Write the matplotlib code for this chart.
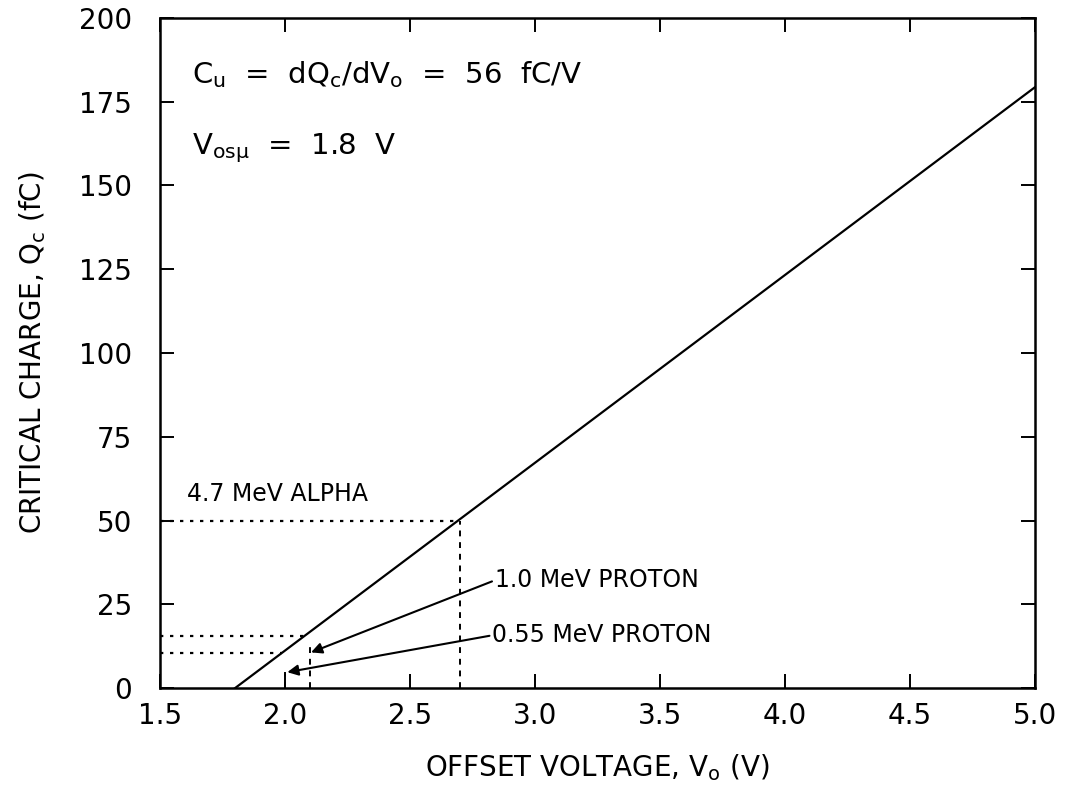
import matplotlib.pyplot as plt

# critical charge line: Q = 56 fC/V * (V - 1.8)
offset_v = [1.8, 5.0]
crit_q = [0.0, 179.2]

# particle reference levels (voltage, charge)
alpha_v, alpha_q = 2.7, 50
p10_v, p10_q = 2.1, 15.5
p055_v, p055_q = 2.0, 10.5

xticks = [1.5, 2.0, 2.5, 3.0, 3.5, 4.0, 4.5, 5.0]
yticks = [0, 25, 50, 75, 100, 125, 150, 175, 200]

plt.rcParams['font.family'] = ['DejaVu Sans']
plt.rcParams['mathtext.fontset'] = 'dejavusans'

fig = plt.figure(figsize=(10.8, 8.05), dpi=100)
ax = fig.add_axes([0.148, 0.145, 0.810, 0.833])

ax.plot(offset_v, crit_q, color='black', lw=1.6)

dot = dict(color='black', lw=1.6, ls=(0, (1.5, 3)))
dash = dict(color='black', lw=1.4, ls=(0, (3, 3)))
ax.plot([1.5, alpha_v], [alpha_q, alpha_q], **dot)
ax.plot([alpha_v, alpha_v], [0, alpha_q], **dash)
ax.plot([1.5, p10_v - 0.02], [p10_q, p10_q], **dot)
ax.plot([p10_v, p10_v], [0, 13], **dash)
ax.plot([1.5, p055_v - 0.01], [p055_q, p055_q], **dot)
ax.plot([p055_v, p055_v], [0, 5], **dash)

fs = 20
afs = 17
arrow = dict(arrowstyle='-|>', color='black', lw=1.5, shrinkA=0, shrinkB=0,
             mutation_scale=16, relpos=(0, 0.5))
ax.text(1.61, 54.5, '4.7 MeV ALPHA', fontsize=afs, va='bottom')
ax.annotate('1.0 MeV PROTON', xy=(2.105, 10.7), xytext=(2.84, 32.2),
            fontsize=afs, va='center', ha='left', arrowprops=arrow)
ax.annotate('0.55 MeV PROTON', xy=(2.01, 4.8), xytext=(2.83, 15.8),
            fontsize=afs, va='center', ha='left', arrowprops=arrow)

ax.text(1.63, 183, r'C$_{\rm u}$  =  dQ$_{\rm c}$/dV$_{\rm o}$  =  56  fC/V',
        fontsize=21, va='center')
ax.text(1.63, 161, r'V$_{\rm os\mu}$  =  1.8  V', fontsize=21, va='center')

ax.set_xlim(1.5, 5.0)
ax.set_ylim(0, 200)
ax.set_xticks(xticks)
ax.set_yticks(yticks)
ax.set_xticklabels([f'{v:.1f}' for v in xticks])
ax.tick_params(direction='in', length=10, width=1.4, top=True, right=True,
               labelsize=fs)
ax.tick_params(axis='y', pad=20)
ax.tick_params(axis='x', pad=10)
for s in ax.spines.values():
    s.set_linewidth(1.8)

ax.set_xlabel(r'OFFSET VOLTAGE, V$_{\rm o}$ (V)', fontsize=fs, labelpad=16)
ax.set_ylabel(r'CRITICAL CHARGE, Q$_{\rm c}$ (fC)', fontsize=fs, labelpad=22)

fig.savefig('out.png', dpi=100)
